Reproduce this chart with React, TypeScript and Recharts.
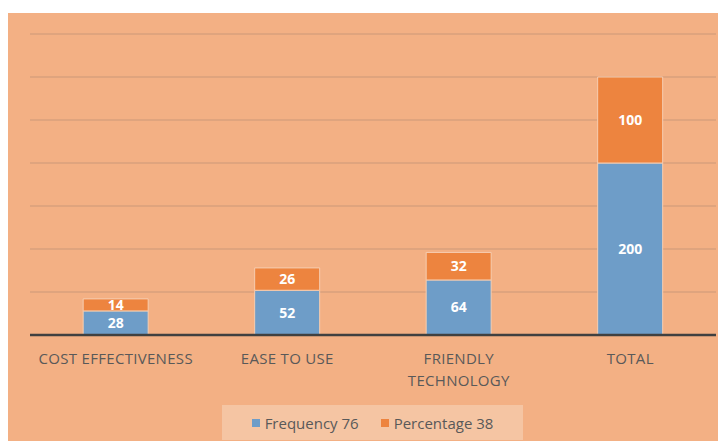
import { BarChart, Bar, XAxis, YAxis, CartesianGrid, LabelList, Legend } from "recharts";

const CATEGORIES = ["COST EFFECTIVENESS", "EASE TO USE", "FRIENDLY TECHNOLOGY", "TOTAL"];
const TICK_LINES = [["COST EFFECTIVENESS"], ["EASE TO USE"], ["FRIENDLY", "TECHNOLOGY"], ["TOTAL"]];
const FREQUENCY = [28, 52, 64, 200];
const PERCENTAGE = [14, 26, 32, 100];
const Y_TICKS = [0, 50, 100, 150, 200, 250, 300, 350];

const FONT = "'Open Sans', 'DejaVu Sans', sans-serif";
const BG = "#f3b084";

const data = CATEGORIES.map((name, i) => ({
  name,
  frequency: FREQUENCY[i],
  percentage: PERCENTAGE[i],
}));

// category labels, some split over two lines
const CategoryTick = (props: any) => {
  const { x, y, payload } = props;
  const lines = TICK_LINES[payload.index] ?? [payload.value];
  return (
    <g transform={`translate(${x},${y})`}>
      {lines.map((line: string, i: number) => (
        <text
          key={line}
          x={0}
          y={21 + i * 22}
          textAnchor="middle"
          fill="#595959"
          fontSize={15}
          letterSpacing={0.3}
          fontFamily={FONT}
        >
          {line}
        </text>
      ))}
    </g>
  );
};

const LegendBox = () => (
  <div
    style={{
      width: 301,
      height: 35,
      background: "#f5c5a3",
      display: "flex",
      alignItems: "center",
      justifyContent: "center",
      gap: 22,
      fontFamily: FONT,
      fontSize: 15,
      color: "#595959",
    }}
  >
    <span style={{ display: "flex", alignItems: "center", gap: 5 }}>
      <span style={{ width: 8, height: 8, background: "#6e9dc8" }} />
      Frequency 76
    </span>
    <span style={{ display: "flex", alignItems: "center", gap: 5 }}>
      <span style={{ width: 8, height: 8, background: "#ed843f" }} />
      Percentage 38
    </span>
  </div>
);

export default function App() {
  return (
    <div style={{ marginLeft: -1, marginTop: 5, width: 719, height: 428, background: BG }}>
      <BarChart
        width={719}
        height={428}
        data={data}
        margin={{ top: 21, right: 10, left: 23, bottom: 0 }}
        barCategoryGap="31%"
      >
        <CartesianGrid vertical={false} stroke="#d9a17c" strokeWidth={1.5} />
        <YAxis hide domain={[0, 350]} ticks={Y_TICKS} />
        <XAxis
          dataKey="name"
          axisLine={{ stroke: "#404040", strokeWidth: 2.5 }}
          tickLine={false}
          tick={<CategoryTick />}
          interval={0}
          height={71}
        />
        <Legend
          verticalAlign="bottom"
          content={<LegendBox />}
          wrapperStyle={{ left: 215, width: 301, bottom: 1 }}
        />
        <Bar dataKey="frequency" stackId="a" fill="#6e9dc8" stroke="#f6cdb0" strokeWidth={1} isAnimationActive={false}>
          <LabelList dataKey="frequency" position="center" fill="#ffffff" fontSize={14} fontWeight={700} fontFamily={FONT} />
        </Bar>
        <Bar dataKey="percentage" stackId="a" fill="#ed843f" stroke="#f6cdb0" strokeWidth={1} isAnimationActive={false}>
          <LabelList dataKey="percentage" position="center" fill="#ffffff" fontSize={14} fontWeight={700} fontFamily={FONT} />
        </Bar>
      </BarChart>
    </div>
  );
}
